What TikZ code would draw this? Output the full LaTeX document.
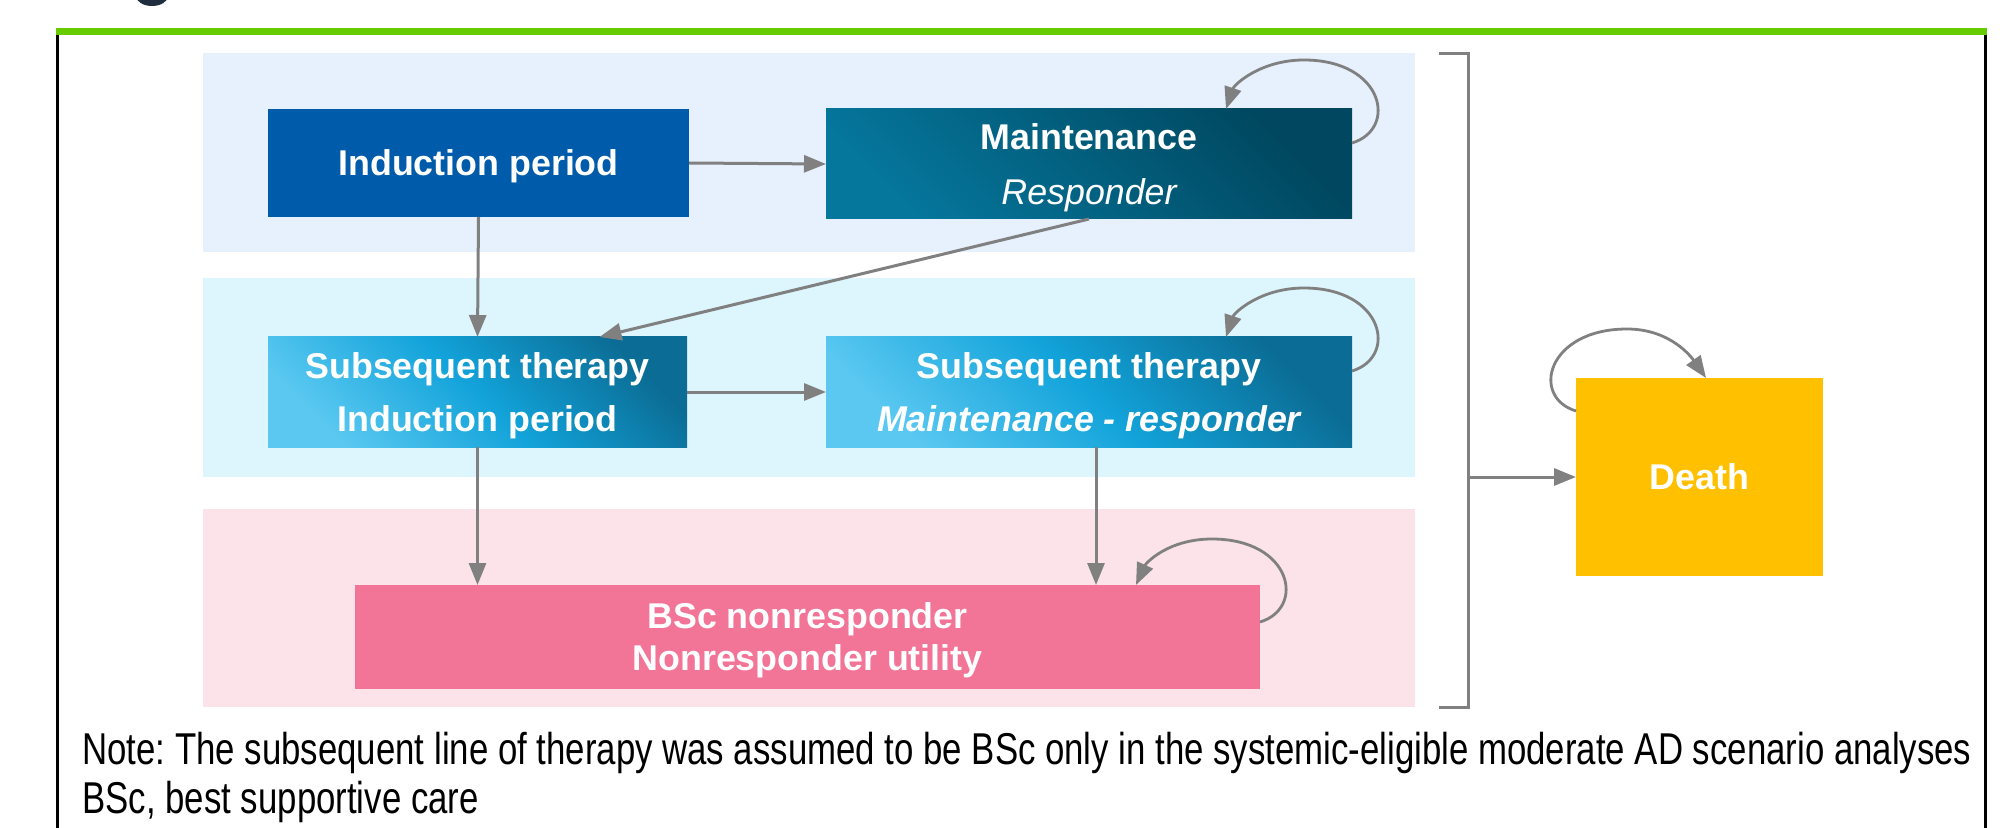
\documentclass[tikz,border=0pt]{standalone}
\usepackage{fontspec}
\setmainfont{Liberation Sans}
\newfontfamily\notefont[FakeStretch=0.78]{Liberation Sans}
\usetikzlibrary{arrows.meta}
\frenchspacing

\definecolor{bandblue}{HTML}{E7F0FD}
\definecolor{bandcyan}{HTML}{DDF5FC}
\definecolor{bandpink}{HTML}{FBE3E9}
\definecolor{indblue}{HTML}{005BAA}
\definecolor{maintlight}{HTML}{05769C}
\definecolor{maintdark}{HTML}{00475F}
\definecolor{sublight}{HTML}{5AC8F1}
\definecolor{submid}{HTML}{12A3DA}
\definecolor{subdark}{HTML}{0B6D95}
\definecolor{bscpink}{HTML}{F27497}
\definecolor{deathgold}{HTML}{FFC000}
\definecolor{arrgray}{HTML}{808080}
\definecolor{bargreen}{HTML}{66CC00}
\definecolor{titlenavy}{HTML}{1F2D3F}

\begin{document}
\begin{tikzpicture}[x=0.5pt,y=-0.5pt,
    state/.style={rectangle,inner sep=0pt,outer sep=0pt,align=center,text=white,text depth=0pt,
        font=\fontsize{17.9}{21}\selectfont\bfseries},
    maintshade/.style={top color=maintdark,bottom color=maintlight,shading angle=-45},
    subshade/.style={top color=subdark,bottom color=sublight,middle color=submid,shading angle=-45},
    arr/.style={draw=arrgray,line width=1.5pt,-{Triangle[length=11pt,width=8.5pt]}},
    selfloop/.style={arr,line width=1.4pt},
    notetext/.style={anchor=base west,inner sep=0pt,font=\notefont\fontsize{22.3}{23.5}\selectfont}]

    \useasboundingbox (0,0) rectangle (2005,828);

    % frame
    \fill[titlenavy] (152,-4) ellipse [x radius=8pt,y radius=5pt];
    \draw[bargreen,line width=3.5pt] (56,31.5) -- (1987,31.5);
    \draw[line width=1.5pt] (57,35) -- (57,832);
    \draw[line width=1.5pt] (1985,35) -- (1985,832);

    % bands
    \fill[bandblue] (203,53) rectangle (1415,252);
    \fill[bandcyan] (203,278) rectangle (1415,477);
    \fill[bandpink] (203,509) rectangle (1415,707);

    \node[state,fill=indblue,minimum width=210.5pt,minimum height=54pt] (ind) at (478.5,163) {Induction period};
    \node[state,maintshade,minimum width=263pt,minimum height=55pt] (maint) at (1089,164)
        {Maintenance\\[6.5pt]\normalfont\itshape Responder};
    \node[state,subshade,minimum width=209.5pt,minimum height=55pt] (subind) at (477.5,392)
        {Subsequent therapy\\[5.5pt]Induction period};
    \node[state,subshade,minimum width=263pt,minimum height=55pt] (submaint) at (1089,392)
        {Subsequent therapy\\[5.5pt]\itshape Maintenance - responder};
    \node[state,fill=bscpink,minimum width=452.5pt,minimum height=52pt] (bsc) at (807.5,637)
        {BSc nonresponder\\[0pt]Nonresponder utility};
    \node[state,fill=deathgold,minimum width=123.5pt,minimum height=99pt] (death) at (1699.5,477) {Death};

    \draw[arr] (ind.east) -- (maint.west);
    \draw[arr] (ind.south) -- (subind.north);
    \draw[arr] (maint.south) -- ([xshift=61pt]subind.north);
    \draw[arr] (subind.east) -- (submaint.west);
    \draw[arr] (subind.south) -- (subind.south |- bsc.north);
    \draw[arr] ([xshift=3.5pt]submaint.south) -- ([xshift=3.5pt]submaint.south |- bsc.north);

    % self loops
    \draw[selfloop] ([yshift=-17pt]maint.north east) .. controls +(23pt,7pt) and +(40pt,0pt) .. ([xshift=-24pt,yshift=24.5pt]maint.north east)
        .. controls +(-22pt,0pt) and +(4pt,12pt) .. ([xshift=-63pt]maint.north east);
    \draw[selfloop] ([yshift=-17pt]submaint.north east) .. controls +(23pt,7pt) and +(40pt,0pt) .. ([xshift=-24pt,yshift=24.5pt]submaint.north east)
        .. controls +(-22pt,0pt) and +(4pt,12pt) .. ([xshift=-63pt]submaint.north east);
    \draw[selfloop] ([yshift=-18.5pt]bsc.north east) .. controls +(23pt,7pt) and +(40pt,0pt) .. ([xshift=-24pt,yshift=23pt]bsc.north east)
        .. controls +(-22pt,0pt) and +(5pt,11pt) .. ([xshift=-62pt]bsc.north east);
    \draw[selfloop] ([yshift=-16.5pt]death.north west) .. controls +(-23pt,7pt) and +(-40pt,0pt) .. ([xshift=25.5pt,yshift=24.5pt]death.north west)
        .. controls +(22pt,0pt) and +(-7pt,10pt) .. ([xshift=65pt]death.north west);

    % bracket to death
    \coordinate (brk) at (1468,477);
    \draw[arrgray,line width=1.5pt] (1439,54) -- (1468,54) -- (1468,707) -- (1439,707);
    \draw[arr] (brk) -- (death.west);

    \node[notetext] (note1) at (82,764) {Note: The subsequent line of therapy was assumed to be BSc only in the systemic-eligible moderate AD scenario analyses};
    \node[notetext] (note2) at (82,813) {BSc, best supportive care};
\end{tikzpicture}
\end{document}
